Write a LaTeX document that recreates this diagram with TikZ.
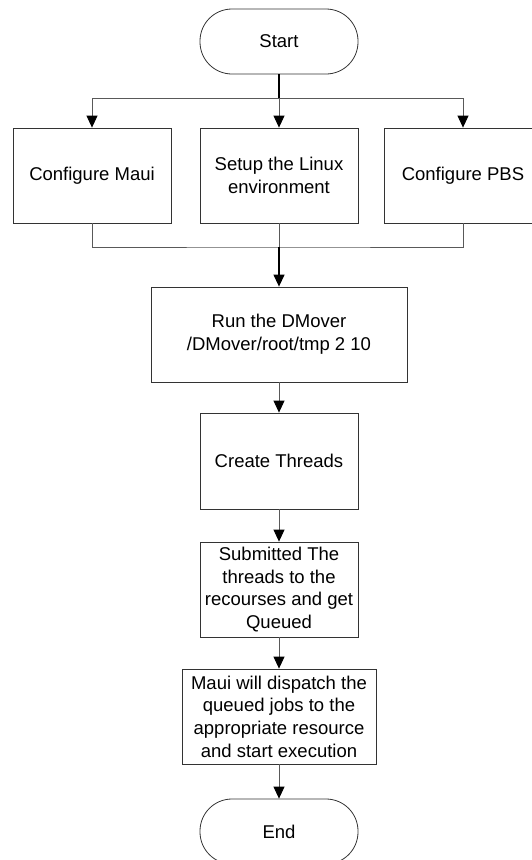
\documentclass[tikz,border=0pt]{standalone}
\usepackage{fontspec}
\setmainfont{Liberation Sans}
\usetikzlibrary{arrows.meta}
\definecolor{linegray}{gray}{0.35}
\begin{document}
\begin{tikzpicture}[x=1pt, y=-1pt,
  box/.style={draw=black!80, line width=0.8pt, minimum width=158pt, minimum height=95pt, align=center, inner sep=2pt},
  term/.style={draw=black!80, line width=0.8pt, minimum width=158pt, minimum height=65pt, rounded corners=32pt},
  flow/.style={draw=linegray, line width=0.9pt},
  trunk/.style={draw=black, line width=1.3pt},
  tip/.style={-{Triangle[length=12pt, width=11pt, color=black]}},
  font=\fontsize{18.5}{22.7}\selectfont]
\useasboundingbox (0,0) rectangle (531,860);

\node[term] (start) at (279,41.5) {Start};
\node[box] (maui) at (92,175.5) {Configure Maui};
\node[box] (linux) at (279,175.5) {Setup the Linux\\environment};
\node[box] (pbs) at (463,175.5) {Configure PBS};
\node[box, minimum width=256pt] (run) at (279,334.5) {Run the DMover\\/DMover/root/tmp 2 10};
\node[box, minimum height=96pt] (threads) at (279,461) {Create Threads};
\node[box] (submit) at (279,589.5) {Submitted The\\threads to the\\recourses and get\\Queued};
\node[box, minimum width=194pt] (dispatch) at (279,716.5) {Maui will dispatch the\\queued jobs to the\\appropriate resource\\and start execution};
\node[term] (stop) at (279,831.5) {End};

\coordinate (split) at (279,98);
\coordinate (merge) at (279,247);

\draw[trunk] (start) -- (split);
\draw[flow, tip] (split) -- (linux);
\draw[flow, tip] (split) -| (maui);
\draw[flow, tip] (split) -| (pbs);

\draw[flow] (maui) |- (merge) -| (pbs);
\draw[flow] (linux) -- (merge);
\draw[trunk, tip] (merge) -- (run);

\draw[flow, tip] (run) -- (threads);
\draw[flow, tip] (threads) -- (submit);
\draw[flow, tip] (submit) -- (dispatch);
\draw[flow, tip] (dispatch) -- (stop);
\end{tikzpicture}
\end{document}
